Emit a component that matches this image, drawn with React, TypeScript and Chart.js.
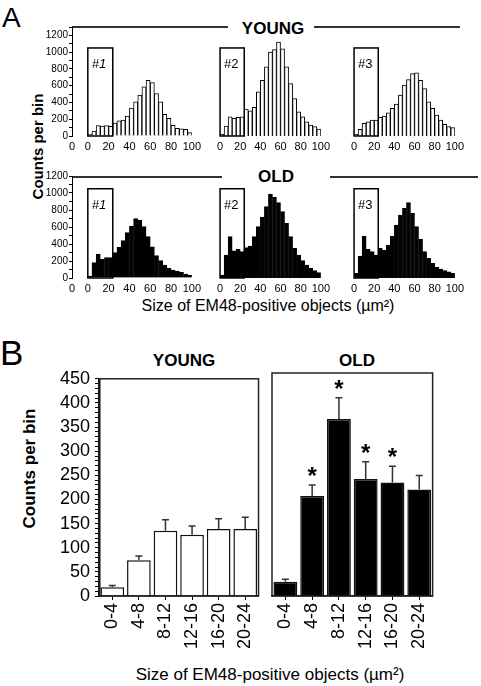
import React, { useEffect, useRef } from "react";
import { Chart, registerables } from "chart.js";
Chart.register(...registerables);

const FONT = "'Liberation Sans', Arial, Helvetica, sans-serif";

// ---------- Panel A data ----------
const BIN_CENTERS = [2, 6, 10, 14, 18, 22, 26, 30, 34, 38, 42, 46, 50, 54, 58, 62, 66, 70, 74, 78, 82, 86, 90, 94, 98];
const X_TICKS_A = [0, 20, 40, 60, 80, 100];
const AXIS_X_MIN = -15.2;
const YOUNG_1 = [20, 60, 123, 119, 123, 115, 155, 182, 190, 238, 333, 408, 487, 586, 665, 638, 507, 408, 257, 210, 127, 91, 87, 79, 40];
const YOUNG_2 = [24, 119, 230, 210, 222, 230, 321, 301, 341, 527, 665, 824, 1002, 1030, 1121, 1041, 824, 626, 447, 289, 230, 170, 131, 111, 83];
const YOUNG_3 = [20, 80, 150, 170, 190, 190, 222, 238, 277, 329, 380, 487, 606, 673, 744, 752, 665, 566, 408, 329, 250, 190, 139, 111, 99];
const OLD_1 = [24, 180, 282, 220, 240, 240, 298, 360, 440, 533, 612, 698, 682, 604, 486, 368, 263, 204, 153, 114, 94, 82, 67, 47, 35];
const OLD_2 = [35, 270, 486, 321, 337, 310, 357, 376, 486, 604, 713, 839, 988, 949, 886, 780, 643, 486, 349, 270, 204, 153, 114, 86, 63];
const OLD_3 = [55, 259, 494, 337, 310, 270, 349, 329, 388, 494, 623, 741, 819, 886, 760, 604, 455, 310, 231, 172, 125, 106, 86, 74, 55];
const BOX_RANGE = [0, 24];
const BOX_TOP = 1050;

// ---------- Panel B data ----------
const BINS_B = ["0-4", "4-8", "8-12", "12-16", "16-20", "20-24"];
const YOUNG_MEAN = [18, 74, 135, 127, 139, 139];
const YOUNG_SEM = [4, 9, 23, 18, 21, 24];
const OLD_MEAN = [29, 202, 357, 236, 229, 215];
const OLD_SEM = [5, 22, 43, 35, 33, 28];
const YOUNG_SIG = [false, false, false, false, false, false];
const OLD_SIG = [false, true, true, true, true, false];

type HistProps = {
  left: number; top: number; width: number; height: number;
  values: number[]; fill: string; withAxis: boolean; yMax: number;
  label: string; italic?: boolean;
};

function Hist({ left, top, width, height, values, fill, withAxis, yMax, label, italic }: HistProps) {
  const ref = useRef<HTMLCanvasElement>(null);
  useEffect(() => {
    const boxPlugin = {
      id: "boxLabel",
      afterDatasetsDraw(chart: any) {
        const { ctx, scales } = chart;
        const x = scales.x, y = scales.y;
        const x0 = x.getPixelForValue(BOX_RANGE[0]);
        const x1 = x.getPixelForValue(BOX_RANGE[1]);
        const yt = y.getPixelForValue(BOX_TOP);
        const yb = y.getPixelForValue(0);
        ctx.save();
        ctx.strokeStyle = "#000";
        ctx.lineWidth = 1.5;
        ctx.strokeRect(x0, yt, x1 - x0, yb - yt);
        ctx.fillStyle = "#000";
        ctx.font = `${italic ? "italic " : ""}13px ${FONT}`;
        ctx.textAlign = "left";
        ctx.textBaseline = "alphabetic";
        ctx.fillText(label, x0 + 4, yt + 20);
        ctx.restore();
      },
    };
    const xTicks = withAxis ? [AXIS_X_MIN, ...X_TICKS_A] : X_TICKS_A;
    const chart = new Chart(ref.current as HTMLCanvasElement, {
      type: "bar",
      data: {
        datasets: [
          {
            data: BIN_CENTERS.map((c, i) => ({ x: c, y: values[i] })),
            backgroundColor: fill,
            borderColor: "#000",
            borderWidth: 1,
            barPercentage: 1,
            categoryPercentage: 1,
          } as any,
        ],
      },
      options: {
        animation: false,
        responsive: false,
        devicePixelRatio: 1,
        layout: { padding: { top: 10, right: 12, bottom: 0, left: withAxis ? 0 : 6 } },
        plugins: { legend: { display: false }, tooltip: { enabled: false } },
        scales: {
          x: {
            type: "linear",
            offset: false,
            min: withAxis ? AXIS_X_MIN : 0,
            max: 100,
            grid: { display: false, drawTicks: false },
            border: { display: false },
            ticks: {
              autoSkip: false,
              maxRotation: 0,
              padding: 4,
              color: "#000",
              font: { size: 11, family: FONT },
              callback: (v: any) => (v < 0 ? "0" : String(v)),
            },
            afterBuildTicks: (s: any) => {
              s.ticks = xTicks.map((v) => ({ value: v }));
            },
            afterFit: (s: any) => {
              s.height = 18;
            },
          },
          y: {
            display: withAxis,
            min: 0,
            max: yMax,
            grid: { drawOnChartArea: false, drawTicks: true, tickLength: 3, color: "#000", lineWidth: 1 },
            border: { display: true, color: "#000", width: 1 },
            ticks: {
              stepSize: 100,
              autoSkip: false,
              padding: 1,
              color: "#000",
              font: { size: 10, family: FONT },
              callback: (v: any) => (v % 200 === 0 && v <= 1200 ? String(v) : ""),
            },
            afterFit: (s: any) => {
              s.width = withAxis ? 32 : 0;
            },
          },
        },
      } as any,
      plugins: [boxPlugin],
    });
    return () => chart.destroy();
  }, []);
  return (
    <canvas
      ref={ref}
      width={width}
      height={height}
      style={{ position: "absolute", left, top, width, height }}
    />
  );
}

type BarProps = {
  left: number; top: number; width: number; height: number;
  means: number[]; sems: number[]; sig: boolean[]; fill: string; withAxis: boolean;
};

function BarPanel({ left, top, width, height, means, sems, sig, fill, withAxis }: BarProps) {
  const ref = useRef<HTMLCanvasElement>(null);
  useEffect(() => {
    const errPlugin = {
      id: "errBars",
      afterDatasetsDraw(chart: any) {
        const { ctx, scales } = chart;
        const y = scales.y;
        const meta = chart.getDatasetMeta(0);
        ctx.save();
        meta.data.forEach((bar: any, i: number) => {
          const x = bar.x;
          const yb = y.getPixelForValue(means[i]);
          const yt = y.getPixelForValue(means[i] + sems[i]);
          ctx.strokeStyle = "#333";
          ctx.lineWidth = 1.5;
          ctx.beginPath();
          ctx.moveTo(x, yb);
          ctx.lineTo(x, yt);
          ctx.moveTo(x - 3.5, yt);
          ctx.lineTo(x + 3.5, yt);
          ctx.stroke();
          if (sig[i]) {
            ctx.fillStyle = "#000";
            ctx.font = `bold 24px ${FONT}`;
            ctx.textAlign = "center";
            ctx.textBaseline = "alphabetic";
            ctx.fillText("*", x, yt - 1);
          }
        });
        const a = chart.chartArea;
        ctx.strokeStyle = "#222";
        ctx.lineWidth = 1.5;
        ctx.strokeRect(a.left, a.top, a.right - a.left, a.bottom - a.top);
        ctx.restore();
      },
    };
    const chart = new Chart(ref.current as HTMLCanvasElement, {
      type: "bar",
      data: {
        labels: BINS_B,
        datasets: [
          {
            data: means,
            backgroundColor: fill,
            borderColor: "#111",
            borderWidth: 1.5,
            barPercentage: 0.89,
            categoryPercentage: 1,
          } as any,
        ],
      },
      options: {
        animation: false,
        responsive: false,
        devicePixelRatio: 1,
        layout: { padding: { top: 10, right: 2, bottom: 0, left: withAxis ? 0 : 2 } },
        plugins: { legend: { display: false }, tooltip: { enabled: false } },
        scales: {
          x: {
            type: "category",
            grid: { display: true, drawOnChartArea: false, drawTicks: true, tickLength: 4, offset: false, color: "#000" },
            border: { display: true, color: "#000", width: 1.5 },
            ticks: {
              autoSkip: false,
              minRotation: 90,
              maxRotation: 90,
              padding: 3,
              color: "#000",
              font: { size: 18, family: FONT },
            },
            afterFit: (s: any) => {
              s.height = 60;
            },
          },
          y: {
            display: withAxis,
            min: 0,
            max: 450,
            grid: { drawOnChartArea: false, drawTicks: true, tickLength: 4, color: "#000", lineWidth: 1 },
            border: { display: true, color: "#000", width: 2.5 },
            ticks: {
              stepSize: 10,
              autoSkip: false,
              padding: 5,
              color: "#000",
              font: { size: 18, family: FONT },
              callback: (v: any) => (v % 50 === 0 ? String(v) : ""),
            },
            afterFit: (s: any) => {
              s.width = withAxis ? 59 : 0;
            },
          },
        },
      } as any,
      plugins: [errPlugin],
    });
    return () => chart.destroy();
  }, []);
  return (
    <canvas
      ref={ref}
      width={width}
      height={height}
      style={{ position: "absolute", left, top, width, height }}
    />
  );
}

function Txt({ x, y, size, bold, italic, children, align = "center" }: any) {
  const top = y - 0.8465 * size;
  const common: any = {
    position: "absolute",
    top,
    fontFamily: FONT,
    fontSize: size,
    fontWeight: bold ? "bold" : "normal",
    fontStyle: italic ? "italic" : "normal",
    lineHeight: "1",
    whiteSpace: "nowrap",
    color: "#000",
  };
  if (align === "center") {
    return <div style={{ ...common, left: x - 300, width: 600, textAlign: "center" }}>{children}</div>;
  }
  return <div style={{ ...common, left: x }}>{children}</div>;
}

function VTxt({ cx, cy, size, bold, children }: any) {
  return (
    <div
      style={{
        position: "absolute",
        left: cx - 150,
        top: cy - size / 2,
        width: 300,
        height: size,
        lineHeight: `${size}px`,
        textAlign: "center",
        fontFamily: FONT,
        fontSize: size,
        fontWeight: bold ? "bold" : "normal",
        transform: "rotate(-90deg)",
        whiteSpace: "nowrap",
        color: "#000",
      }}
    >
      {children}
    </div>
  );
}

function HLine({ x1, x2, y }: any) {
  return <div style={{ position: "absolute", left: x1, top: y - 0.75, width: x2 - x1, height: 1.5, background: "#333" }} />;
}

export default function App() {
  return (
    <div style={{ position: "absolute", left: 0, top: 0, width: 481, height: 686, background: "#fff", overflow: "hidden" }}>
      {/* Panel A */}
      <Txt x={2} y={28} size={28} align="left">A</Txt>
      <VTxt cx={37} cy={146} size={15} bold>Counts per bin</VTxt>
      <HLine x1={72} x2={228} y={27} />
      <HLine x1={314} x2={460} y={27} />
      <Txt x={273} y={34.5} size={17} bold>YOUNG</Txt>
      <HLine x1={72} x2={222} y={177} />
      <HLine x1={330} x2={478} y={177} />
      <Txt x={276} y={182} size={17} bold>OLD</Txt>

      <Hist left={40} top={17} width={165} height={137} values={YOUNG_1} fill="#fff" withAxis yMax={1300} label="#1" italic />
      <Hist left={213} top={17} width={121} height={137} values={YOUNG_2} fill="#fff" withAxis={false} yMax={1300} label="#2" />
      <Hist left={347} top={17} width={121} height={137} values={YOUNG_3} fill="#fff" withAxis={false} yMax={1300} label="#3" />

      <Hist left={40} top={166} width={165} height={130} values={OLD_1} fill="#000" withAxis yMax={1200} label="#1" italic />
      <Hist left={213} top={166} width={121} height={130} values={OLD_2} fill="#000" withAxis={false} yMax={1200} label="#2" />
      <Hist left={347} top={166} width={121} height={130} values={OLD_3} fill="#000" withAxis={false} yMax={1200} label="#3" />

      <Txt x={268} y={312} size={16}>Size of EM48-positive objects (µm²)</Txt>

      {/* Panel B */}
      <Txt x={0} y={365} size={35} align="left">B</Txt>
      <VTxt cx={28.5} cy={468} size={17} bold>Counts per bin</VTxt>
      <Txt x={184} y={366} size={17} bold>YOUNG</Txt>
      <Txt x={357} y={366} size={17} bold>OLD</Txt>

      <BarPanel left={40} top={363} width={230} height={293} means={YOUNG_MEAN} sems={YOUNG_SEM} sig={YOUNG_SIG} fill="#fff" withAxis />
      <BarPanel left={270} top={363} width={174} height={293} means={OLD_MEAN} sems={OLD_SEM} sig={OLD_SIG} fill="#000" withAxis={false} />

      <Txt x={270} y={680} size={17}>Size of EM48-positive objects (µm²)</Txt>
    </div>
  );
}
